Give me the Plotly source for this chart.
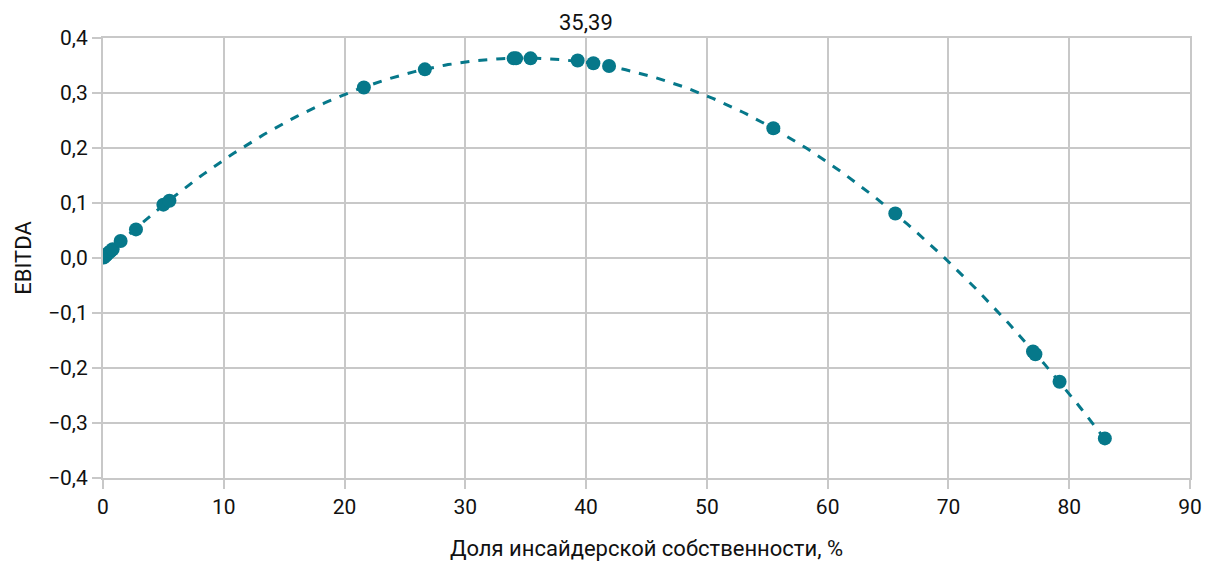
import numpy as np
import plotly.graph_objects as go

# Data
insider_share = [0.05, 0.1, 0.2, 0.3, 0.45, 0.6, 0.8, 1.46, 2.73, 5.0, 5.5,
                 21.6, 26.65, 34.0, 34.2, 35.4, 39.3, 40.6, 41.9,
                 55.5, 65.6, 77.0, 77.2, 79.2, 82.95]
ebitda = [0.001, 0.002, 0.004, 0.006, 0.009, 0.012, 0.016, 0.031, 0.052, 0.097, 0.104,
          0.310, 0.343, 0.363, 0.363, 0.363, 0.359, 0.354, 0.349,
          0.236, 0.081, -0.170, -0.175, -0.225, -0.328]
peak_label = "35,39"
x_ticks = [0, 10, 20, 30, 40, 50, 60, 70, 80, 90]
y_ticks = [-0.4, -0.3, -0.2, -0.1, 0.0, 0.1, 0.2, 0.3, 0.4]

color = "#06788A"
grid = "#c8c8c8"
font = "Roboto"
fs_tick = 21
fs_title = 22

# Quadratic trend line fitted to the data
coef = np.polyfit(insider_share, ebitda, 2)
xt = np.linspace(0, max(insider_share), 300)
yt = np.polyval(coef, xt)

fig = go.Figure()
fig.add_trace(go.Scatter(x=xt, y=yt, mode="lines",
                         line=dict(color=color, width=3, dash="dash"),
                         hoverinfo="skip", showlegend=False))
fig.add_trace(go.Scatter(x=insider_share, y=ebitda, mode="markers",
                         marker=dict(color=color, size=14),
                         showlegend=False))

fig.add_annotation(x=40, y=1, xref="x", yref="paper", yanchor="bottom",
                   yshift=1, text=peak_label, showarrow=False,
                   font=dict(family=font, size=fs_title, color="#111"))

fig.update_layout(
    width=1211, height=565,
    margin=dict(l=95, r=29, t=30, b=95),
    paper_bgcolor="white", plot_bgcolor="white",
    separators=", ",
    font=dict(family=font, size=fs_tick, color="#111"),
    xaxis=dict(range=[0, 90], tickvals=x_ticks, showgrid=True, gridcolor=grid,
               gridwidth=2, zeroline=False, showline=True, linecolor=grid,
               linewidth=2, ticks="outside", ticklen=9, tickcolor=grid,
               tickwidth=2, tickfont=dict(family=font, size=fs_tick),
               title=dict(text="Доля инсайдерской собственности, %",
                          standoff=22, font=dict(family=font, size=fs_title))),
    yaxis=dict(range=[-0.4, 0.4], tickvals=y_ticks, tickformat=".1f",
               showgrid=True, gridcolor=grid, gridwidth=2, zeroline=False,
               showline=True, linecolor=grid, linewidth=2, ticks="outside",
               ticklen=9, tickcolor=grid, tickwidth=2,
               tickfont=dict(family=font, size=fs_tick),
               title=dict(text="EBITDA", standoff=10, font=dict(family=font, size=fs_title))),
)
fig.update_xaxes(mirror=True)
fig.update_yaxes(mirror=True)

fig.write_html("out.html")
